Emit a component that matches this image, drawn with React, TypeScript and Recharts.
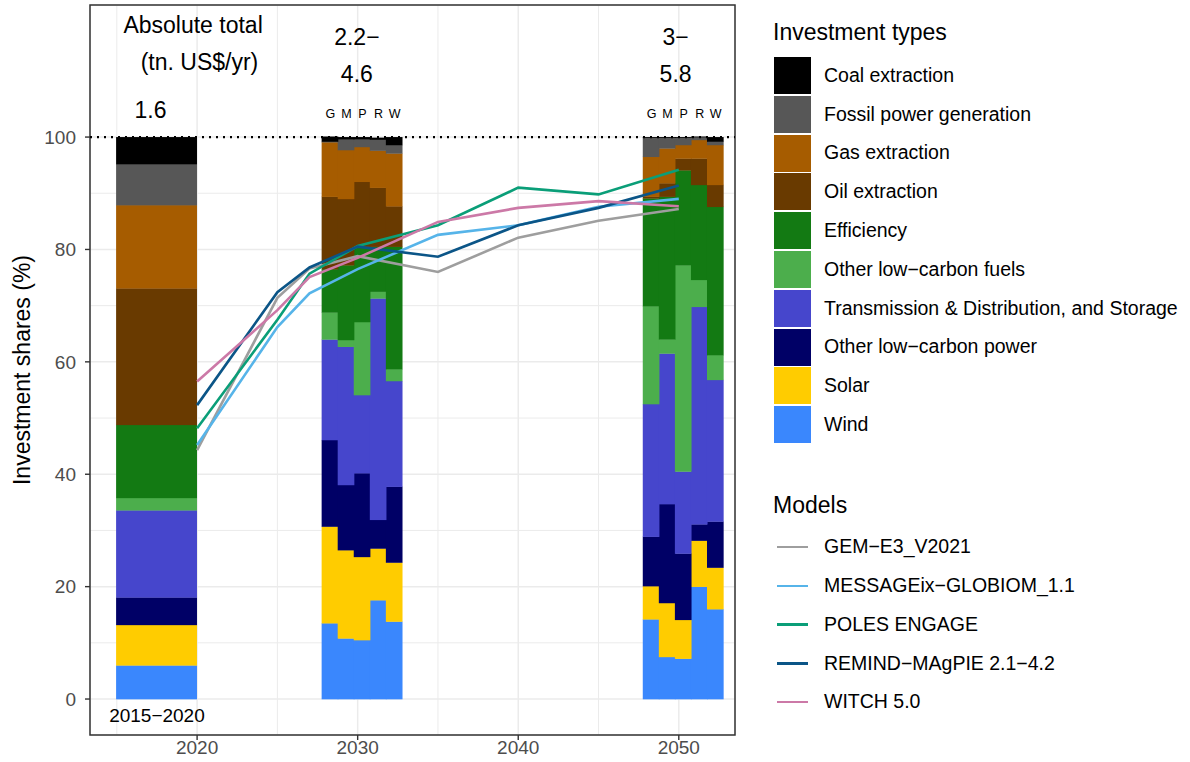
import React from "react";
import {
  ComposedChart,
  Bar,
  Line,
  XAxis,
  YAxis,
  CartesianGrid,
  ReferenceLine,
  ReferenceArea,
  ReferenceDot,
} from "recharts";

const FONT = "'Liberation Sans', Arial, Helvetica, sans-serif";

// ---- data -------------------------------------------------------------
// columns: history 2015-2020, then G M P R W for 2030, then G M P R W for 2050
const historyPeriod = [2015, 2020];
const scenarioYears = [2030, 2050];
const modelLetters = ["G", "M", "P", "R", "W"];

const investmentTypes = [
  "Coal extraction",
  "Fossil power generation",
  "Gas extraction",
  "Oil extraction",
  "Efficiency",
  "Other low\u2212carbon fuels",
  "Transmission & Distribution, and Storage",
  "Other low\u2212carbon power",
  "Solar",
  "Wind",
];
const typeColors = [
  "#000000",
  "#575757",
  "#a65c00",
  "#693a00",
  "#137a13",
  "#4cae4c",
  "#4646cc",
  "#000066",
  "#ffcc00",
  "#3a87fd",
];

// investment shares (%)
const coal = [4.8, 0.9, 0.4, 0.35, 0.35, 1.4, 0.1, 0.1, 0.1, 0.1, 0.8];
const fossilPower = [7.3, 0.1, 1.9, 1.4, 1.95, 1.5, 3.4, 1.9, 1.3, 0.5, 0.6];
const gas = [14.8, 9.7, 8.7, 6.2, 6.6, 9.4, 7.1, 6.2, 2.4, 3.3, 7.1];
const oil = [24.3, 12.9, 11.8, 11.55, 10.5, 7.2, 0.3, 2.4, 2.1, 4.7, 3.9];
const efficiency = [13.0, 7.7, 13.3, 13.4, 8.0, 21.8, 19.2, 25.4, 16.9, 16.9, 26.4];
const otherFuels = [2.2, 4.8, 1.2, 13.0, 1.2, 2.1, 17.4, 2.5, 36.7, 4.8, 4.4];
const transmission = [15.5, 17.9, 24.6, 13.9, 39.4, 18.8, 23.6, 26.8, 14.6, 38.7, 25.2];
const otherPower = [4.9, 15.4, 11.6, 14.9, 5.1, 13.5, 8.8, 17.6, 11.8, 2.9, 8.2];
const solar = [7.2, 17.2, 15.7, 14.8, 9.2, 10.5, 5.9, 9.6, 6.9, 8.2, 7.4];
const wind = [6.0, 13.5, 10.8, 10.5, 17.6, 13.8, 14.2, 7.5, 7.2, 20.0, 16.0];

const shares = [coal, fossilPower, gas, oil, efficiency, otherFuels, transmission, otherPower, solar, wind];

const totals = ["1.6", "2.2\u2212", "4.6", "3\u2212", "5.8"];

// model lines
const lineYears = [2020, 2025, 2027, 2030, 2035, 2040, 2045, 2050];
const models = [
  "GEM\u2212E3_V2021",
  "MESSAGEix\u2212GLOBIOM_1.1",
  "POLES ENGAGE",
  "REMIND\u2212MAgPIE 2.1\u22124.2",
  "WITCH 5.0",
];
const modelColors = ["#9e9e9e", "#56b4e9", "#0a9e78", "#0b5587", "#cc79a7"];
const gem = [44.3, 71.4, 76.6, 78.8, 76.0, 82.1, 85.1, 87.2];
const message = [45.2, 66.2, 72.2, 76.5, 82.6, 84.3, 87.6, 89.0];
const poles = [48.2, 67.5, 75.7, 80.6, 84.3, 91.0, 89.8, 94.2];
const remind = [52.3, 72.4, 76.8, 80.5, 78.7, 84.3, 87.4, 91.4];
const witch = [56.5, 69.2, 75.1, 78.5, 84.9, 87.4, 88.6, 87.7];
const modelValues = [gem, message, poles, remind, witch];

const xTicks = [2020, 2030, 2040, 2050];
const xMinor = [2015, 2025, 2035, 2045];
const yTicks = [0, 20, 40, 60, 80, 100];
const yMinor = [10, 30, 50, 70, 90];

// ---- layout -------------------------------------------------------------
const W = 1190;
const H = 762;
const X_DOMAIN = [2013.33, 2053.5];
const Y_DOMAIN = [-6.4, 123.5];
const MARGIN = { top: 5, right: 455, bottom: 2, left: 30 };
const Y_AXIS_W = 60;
const PLOT_W = W - MARGIN.left - MARGIN.right - Y_AXIS_W;
const PX_PER_YEAR = PLOT_W / (X_DOMAIN[1] - X_DOMAIN[0]);
const DODGE_SHIFT = 0.3;

// build bar table
const columns: { x: number; span: number; label: string }[] = [
  { x: (historyPeriod[0] + historyPeriod[1]) / 2, span: historyPeriod[1] - historyPeriod[0], label: "" },
];
scenarioYears.forEach((yr) =>
  modelLetters.forEach((m, i) => columns.push({ x: yr + DODGE_SHIFT + (i - 2), span: 1, label: m }))
);
const barData = columns.map((c, ci) => {
  const row: Record<string, number | string> = { x: c.x, span: c.span, label: c.label };
  shares.forEach((arr, ti) => (row["t" + ti] = arr[ci]));
  return row;
});

const lineData = modelValues.map((vals) => lineYears.map((yr, i) => ({ x: yr, v: vals[i] })));

// stacked from the bottom: Wind first, Coal on top
const stackOrder = investmentTypes.map((_, i) => investmentTypes.length - 1 - i);

// the library places each bar at its x; width follows the column's span in years
function BarShape(props: any) {
  const { x, y, width, height, fill, payload } = props;
  if (!height || height <= 0) return null;
  const cx = x + width / 2;
  const w = PX_PER_YEAR * payload.span;
  return <rect x={cx - w / 2 - 0.3} y={y} width={w + 0.6} height={height + 0.3} fill={fill} />;
}

const textShape = (text: string, size: number, fill = "#000") => (p: any) =>
  (
    <text
      x={p.cx}
      y={p.cy}
      textAnchor="middle"
      dominantBaseline="central"
      fontSize={size}
      fill={fill}
      fontFamily={FONT}
    >
      {text}
    </text>
  );

const annotations = [
  { x: 2019.75, y: 120.0, text: "Absolute total", size: 23 },
  { x: 2020.15, y: 113.3, text: "(tn. US$/yr)", size: 23 },
  { x: 2017.1, y: 104.8, text: totals[0], size: 23 },
  { x: 2029.95, y: 117.8, text: totals[1], size: 23 },
  { x: 2029.95, y: 111.2, text: totals[2], size: 23 },
  { x: 2049.8, y: 117.8, text: totals[3], size: 23 },
  { x: 2049.8, y: 111.2, text: totals[4], size: 23 },
  { x: 2017.5, y: -3.0, text: "2015\u22122020", size: 19 },
];

function Legends() {
  const label = (top: number, text: string, size: number, left: number) => (
    <div
      key={text + top}
      style={{
        position: "absolute",
        left,
        top: top - size / 2,
        fontSize: size,
        lineHeight: `${size}px`,
        whiteSpace: "nowrap",
        color: "#000",
      }}
    >
      {text}
    </div>
  );
  return (
    <div style={{ position: "absolute", left: 0, top: 0, fontFamily: FONT }}>
      {label(32, "Investment types", 23, 773)}
      {investmentTypes.map((t, i) => (
        <React.Fragment key={t}>
          <div
            style={{
              position: "absolute",
              left: 774,
              top: 57 + 38.8 * i,
              width: 37,
              height: 37,
              background: typeColors[i],
            }}
          />
          {label(75.5 + 38.8 * i, t, 19.5, 824)}
        </React.Fragment>
      ))}
      {label(505, "Models", 23, 773)}
      {models.map((m, i) => (
        <React.Fragment key={m}>
          <div
            style={{
              position: "absolute",
              left: 777,
              top: 547 + 38.8 * i - 1.25,
              width: 31,
              height: 2.5,
              background: modelColors[i],
            }}
          />
          {label(547 + 38.8 * i, m, 19.5, 824)}
        </React.Fragment>
      ))}
    </div>
  );
}

export default function App() {
  return (
    <div style={{ position: "absolute", left: 0, top: 0, width: W, height: H, background: "#fff" }}>
      <ComposedChart
        width={W}
        height={H}
        data={barData}
        margin={MARGIN}
        style={{ fontFamily: FONT }}
      >
        {/* minor grid */}
        <CartesianGrid
          stroke="#ebebeb"
          strokeWidth={1}
          horizontalValues={yMinor}
          verticalValues={xMinor}
        />
        {/* major grid */}
        <CartesianGrid stroke="#ebebeb" strokeWidth={1.5} />
        <XAxis
          type="number"
          dataKey="x"
          domain={X_DOMAIN}
          allowDataOverflow
          ticks={xTicks}
          axisLine={false}
          tickSize={5}
          tickMargin={1}
          height={25}
          tickLine={{ stroke: "#333", strokeWidth: 1.4 }}
          tick={{ fontSize: 19, fill: "#4d4d4d" }}
        />
        <YAxis
          type="number"
          domain={Y_DOMAIN}
          allowDataOverflow
          ticks={yTicks}
          width={Y_AXIS_W}
          axisLine={false}
          tickSize={5}
          tickMargin={9}
          tickLine={{ stroke: "#333", strokeWidth: 1.4 }}
          tick={{ fontSize: 19, fill: "#4d4d4d" }}
          label={{
            content: (p: any) => {
              const vb = p.viewBox;
              const cx = vb.x - 8;
              const cy = vb.y + vb.height / 2;
              return (
                <text
                  x={cx}
                  y={cy}
                  transform={`rotate(-90 ${cx} ${cy})`}
                  textAnchor="middle"
                  dominantBaseline="central"
                  fontSize={23}
                  fill="#000"
                  fontFamily={FONT}
                >
                  Investment shares (%)
                </text>
              );
            },
          }}
        />
        {stackOrder.map((ti) => (
          <Bar
            key={"t" + ti}
            dataKey={"t" + ti}
            stackId="shares"
            fill={typeColors[ti]}
            barSize={4}
            shape={BarShape}
            isAnimationActive={false}
          />
        ))}
        {lineData.map((d, i) => (
          <Line
            key={models[i]}
            data={d}
            dataKey="v"
            type="linear"
            stroke={modelColors[i]}
            strokeWidth={2.6}
            dot={false}
            activeDot={false}
            isAnimationActive={false}
          />
        ))}
        <ReferenceLine y={100} stroke="#000" strokeWidth={2.3} strokeDasharray="2 5" />
        {annotations.map((a) => (
          <ReferenceDot
            key={a.text + a.y}
            x={a.x}
            y={a.y}
            r={1}
            shape={textShape(a.text, a.size)}
          />
        ))}
        {columns
          .filter((c) => c.label)
          .map((c, i) => (
            <ReferenceDot key={"lab" + i} x={c.x} y={104.1} r={1} shape={textShape(c.label, 12.5)} />
          ))}
        <ReferenceArea
          x1={X_DOMAIN[0]}
          x2={X_DOMAIN[1]}
          y1={Y_DOMAIN[0]}
          y2={Y_DOMAIN[1]}
          fill="none"
          fillOpacity={0}
          stroke="#333"
          strokeWidth={1.5}
          ifOverflow="visible"
        />
      </ComposedChart>
      <Legends />
    </div>
  );
}
